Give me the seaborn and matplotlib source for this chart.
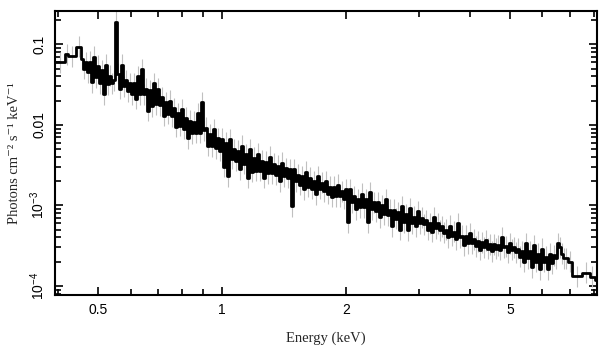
import numpy as np
import matplotlib
matplotlib.use("Agg")
import matplotlib.pyplot as plt
import seaborn as sns
from matplotlib.ticker import FixedLocator, NullFormatter, LogLocator

# --- Data: bin edges (keV) and flux (photons cm^-2 s^-1 keV^-1) ---
edges = [0.393, 0.416, 0.423, 0.442,
         0.4547, 0.4598, 0.4650, 0.4702, 0.4755, 0.4808, 0.4862, 0.4917, 0.4972, 0.5028,
         0.5085, 0.5142, 0.5200, 0.5258, 0.5317, 0.5377, 0.5438, 0.5499, 0.5561, 0.5623,
         0.5686, 0.5750, 0.5815, 0.5880, 0.5946, 0.6013, 0.6081, 0.6149, 0.6218, 0.6288,
         0.6359, 0.6430, 0.6503, 0.6576, 0.6650, 0.6724, 0.6800, 0.6876, 0.6954, 0.7032,
         0.7111, 0.7191, 0.7272, 0.7354, 0.7437, 0.7520, 0.7605, 0.7690, 0.7777, 0.7864,
         0.7953, 0.8042, 0.8133, 0.8224, 0.8317, 0.8410, 0.8505, 0.8600, 0.8697, 0.8795,
         0.8894, 0.8994, 0.9095, 0.9197, 0.9301, 0.9405, 0.9511, 0.9618, 0.9726, 0.9836,
         0.9946, 1.0058, 1.0171, 1.0285, 1.0401, 1.0518, 1.0636, 1.0756, 1.0877, 1.0999,
         1.1123, 1.1248, 1.1374, 1.1502, 1.1631, 1.1762, 1.1894, 1.2028, 1.2163, 1.2300,
         1.2438, 1.2578, 1.2719, 1.2862, 1.3007, 1.3153, 1.3301, 1.3450, 1.3602, 1.3754,
         1.3909, 1.4066, 1.4224, 1.4384, 1.4545, 1.4709, 1.4874, 1.5041, 1.5210, 1.5381,
         1.5554, 1.5729, 1.5906, 1.6085, 1.6266, 1.6448, 1.6633, 1.6820, 1.7009, 1.7201,
         1.7394, 1.7589, 1.7787, 1.7987, 1.8189, 1.8394, 1.8600, 1.8810, 1.9021, 1.9235,
         1.9451, 1.9670, 1.9891, 2.0114, 2.0340, 2.0569, 2.0800, 2.1034, 2.1270, 2.1509,
         2.1751, 2.1996, 2.2243, 2.2493, 2.2746, 2.3001, 2.3260, 2.3521, 2.3786, 2.4053,
         2.4324, 2.4597, 2.4874, 2.5153, 2.5436, 2.5722, 2.6011, 2.6303, 2.6599, 2.6898,
         2.7200, 2.7506, 2.7815, 2.8128, 2.8444, 2.8764, 2.9087, 2.9414, 2.9745, 3.0079,
         3.0417, 3.0759, 3.1105, 3.1454, 3.1808, 3.2165, 3.2527, 3.2893, 3.3263, 3.3636,
         3.4015, 3.4397, 3.4784, 3.5175, 3.5570, 3.5970, 3.6374, 3.6783, 3.7196, 3.7614,
         3.8037, 3.8465, 3.8897, 3.9334, 3.9777, 4.0224, 4.0676, 4.1133, 4.1596, 4.2063,
         4.2536, 4.3014, 4.3498, 4.3986, 4.4481, 4.4981, 4.5487, 4.5998, 4.6515, 4.7038,
         4.7567, 4.8101, 4.8642, 4.9189, 4.9742, 5.0301, 5.0866, 5.1438, 5.2016, 5.2601,
         5.3192, 5.3790, 5.4395, 5.5006, 5.5625, 5.6250, 5.6882, 5.7522, 5.8168, 5.8822,
         5.9483, 6.0152, 6.0828, 6.1512, 6.2203, 6.2902, 6.3609, 6.4324, 6.5047, 6.5778,
         6.6518, 6.7265, 6.8022,
         6.916, 7.071, 7.477, 7.819, 8.040, 8.300]

# wide low-energy bins, then pairs of narrow bins (upper / lower side of the noisy band),
# then the wide high-energy bins
flux = [0.060, 0.075, 0.071, 0.094,
        0.065, 0.050,  0.060, 0.045,  0.061, 0.034,  0.070, 0.039,  0.054, 0.033,
        0.048, 0.024,  0.056, 0.032,  0.041, 0.033,  0.036, 0.19,   0.043, 0.028,
        0.056, 0.030,  0.036, 0.026,  0.033, 0.024,  0.033, 0.021,  0.040, 0.024,
        0.049, 0.024,  0.028, 0.015,  0.027, 0.017,  0.033, 0.018,  0.028, 0.0175,
        0.022, 0.013,  0.019, 0.0137, 0.020, 0.0128, 0.016, 0.0095, 0.014, 0.0097,
        0.0156, 0.0090, 0.0123, 0.0068, 0.0113, 0.0079, 0.011, 0.0080, 0.014, 0.0080,
        0.019, 0.0086, 0.0092, 0.0055, 0.0076, 0.0054, 0.0088, 0.0051, 0.0068, 0.0048,
        0.0067, 0.0030, 0.0060, 0.0023, 0.0066, 0.0038, 0.0050, 0.0036, 0.0048, 0.0028,
        0.0055, 0.0033, 0.0043, 0.0022, 0.0050, 0.0026, 0.0039, 0.0027, 0.0044, 0.0027,
        0.0036, 0.0022, 0.0035, 0.0025, 0.0040, 0.0025, 0.0033, 0.0024, 0.0031, 0.0020,
        0.0034, 0.0023, 0.0029, 0.0022, 0.0028, 0.00098, 0.0028, 0.0020, 0.0024, 0.0018,
        0.0023, 0.00158, 0.0026, 0.0017, 0.0022, 0.0016, 0.0020, 0.00137, 0.0023, 0.0016,
        0.0019, 0.0015, 0.0020, 0.0014, 0.0017, 0.00128, 0.0017, 0.0013, 0.0018, 0.0013,
        0.0015, 0.0012, 0.00158, 0.00062, 0.00158, 0.0011, 0.0013, 0.00090, 0.0012, 0.00095,
        0.0014, 0.00095, 0.0012, 0.00062, 0.00145, 0.00090, 0.0011, 0.00085, 0.0011, 0.00071,
        0.0010, 0.00078, 0.0012, 0.00075, 0.00088, 0.00055, 0.00088, 0.00068, 0.00082, 0.00050,
        0.00098, 0.00062, 0.00078, 0.00049, 0.00092, 0.00060, 0.00072, 0.00055, 0.00085, 0.00060,
        0.00070, 0.00058, 0.00065, 0.00050, 0.00060, 0.00047, 0.00071, 0.00052, 0.00060, 0.00049,
        0.00055, 0.00046, 0.00050, 0.00040, 0.00056, 0.00042, 0.00047, 0.00038, 0.00060, 0.00040,
        0.00042, 0.00032, 0.00042, 0.00034, 0.00045, 0.00034, 0.00038, 0.00031, 0.00036, 0.00028,
        0.00035, 0.00030, 0.00037, 0.00029, 0.00033, 0.00027, 0.00033, 0.00029, 0.00032, 0.00028,
        0.00040, 0.00030, 0.00031, 0.00026, 0.00034, 0.00028, 0.00030, 0.00026, 0.00029, 0.00023,
        0.00027, 0.00020, 0.00034, 0.00022, 0.00027, 0.00017, 0.00032, 0.00020, 0.00025, 0.00016,
        0.00029, 0.00020, 0.00023, 0.00016, 0.00025, 0.00019, 0.00024, 0.00022, 0.00034, 0.00030,
        0.00025, 0.00022,
        0.00022, 0.00020, 0.000132, 0.000145, 0.00013, 0.000118]

assert len(edges) == len(flux) + 1

err_factor = 1.35   # rough size of the grey 1-sigma bars

x_ticks = [0.5, 1, 2, 5]
x_ticklabels = ["0.5", "1", "2", "5"]
y_ticks = [1e-4, 1e-3, 1e-2, 0.1]
y_ticklabels = ["$10^{-4}$", "$10^{-3}$", "0.01", "0.1"]

# --- Style ---
sns.set_theme(style="ticks")
plt.rcParams['font.family'] = ['Liberation Sans', 'DejaVu Sans']
plt.rcParams['mathtext.fontset'] = 'custom'
plt.rcParams['mathtext.rm'] = 'Liberation Sans'
plt.rcParams['mathtext.it'] = 'Liberation Sans:italic'
serif = ['Liberation Serif', 'DejaVu Serif']

fig = plt.figure(figsize=(6.09, 3.57), dpi=100)
ax = fig.add_axes([0.0903, 0.1737, 0.8897, 0.7955])

lo = np.array(edges[:-1])
hi = np.array(edges[1:])
centers = np.sqrt(lo * hi)
f = np.array(flux)

# error bars in grey, under the spectrum
ax.vlines(centers, f / err_factor, f * err_factor, color='#c0c0c0', lw=0.8, zorder=1)

# step spectrum
sns.lineplot(x=edges, y=flux + [flux[-1]], drawstyle='steps-post', color='black',
             lw=2, estimator=None, sort=False, ax=ax, zorder=3)

ax.set_xscale('log')
ax.set_yscale('log')
ax.set_xlim(0.393, 8.13)
ax.set_ylim(7.7e-5, 0.26)

ax.xaxis.set_major_locator(FixedLocator(x_ticks))
ax.set_xticklabels(x_ticklabels)
ax.xaxis.set_minor_locator(LogLocator(base=10, subs=np.arange(2, 10)))
ax.xaxis.set_minor_formatter(NullFormatter())
ax.yaxis.set_major_locator(FixedLocator(y_ticks))
ax.set_yticklabels(y_ticklabels, rotation=90, va='center')
ax.yaxis.set_minor_locator(LogLocator(base=10, subs=np.arange(2, 10)))
ax.yaxis.set_minor_formatter(NullFormatter())

ax.tick_params(which='both', direction='in', top=True, right=True, width=1.2,
               colors='black', labelsize=10)
ax.tick_params(which='major', length=6, pad=6)
ax.tick_params(which='minor', length=4)
for s in ax.spines.values():
    s.set_linewidth(1.5)
    s.set_color('black')

ax.set_xlabel("Energy (keV)", family=serif, fontsize=10.5, labelpad=10)
ax.set_ylabel("Photons cm⁻² s⁻¹ keV⁻¹", family=serif, fontsize=10.5, labelpad=5)

fig.savefig("out.png", dpi=100)
